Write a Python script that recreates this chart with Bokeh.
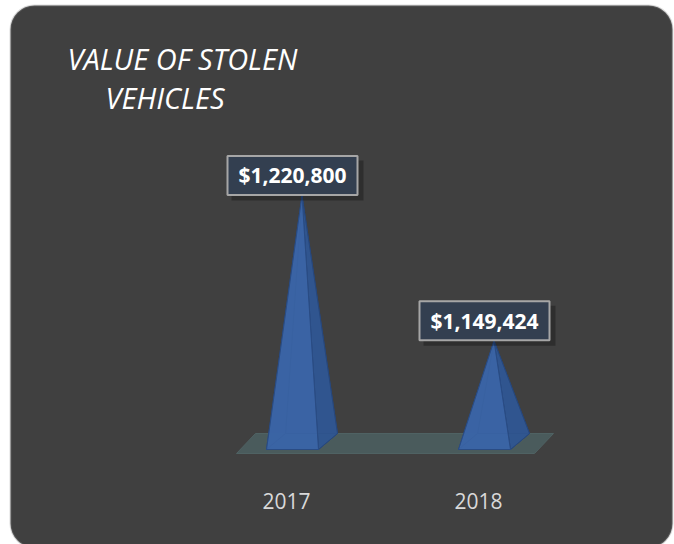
from bokeh.plotting import figure
from bokeh.models import Range1d, BoxAnnotation
from bokeh.core.properties import value
from bokeh.embed import file_html
from bokeh.resources import INLINE

# ---- data ----
years = ["2017", "2018"]
values = [1220800, 1149424]
axis_min = 1100000
title_lines = ["VALUE OF STOLEN", "VEHICLES"]

# ---- layout constants (pixel scale of the chart) ----
W, H = 674, 544
PX_PER_CAT = 192.0      # pixels per category step
VAL_PER_PX = 491.0      # value units per pixel
BASE_X0 = 301.5         # canvas x of first category base centre
BASE_Y = 441.0          # canvas y of axis minimum

x_start = -BASE_X0 / PX_PER_CAT
x_end = x_start + W / PX_PER_CAT
y_end = axis_min + BASE_Y * VAL_PER_PX
y_start = y_end - H * VAL_PER_PX

def dx(px):
    return px / PX_PER_CAT

def dv(px):
    return px * VAL_PER_PX

def X(px):
    return x_start + px / PX_PER_CAT

def Y(py):
    return y_end - py * VAL_PER_PX

p = figure(width=W, height=H, x_range=Range1d(x_start, x_end), y_range=Range1d(y_start, y_end),
           x_axis_type=None, y_axis_type=None, output_backend="svg", toolbar_location=None,
           min_border=0)
p.grid.visible = False
p.outline_line_color = None
p.background_fill_color = "white"
p.border_fill_color = "white"

# rounded dark panel
panel = BoxAnnotation(left=X(10), right=X(672), top=Y(5), bottom=Y(547), border_radius=24,
                      fill_color="#404040", fill_alpha=1.0, line_color="#8c8c8c", line_width=2,
                      level="underlay")
p.add_layout(panel)

xs_idx = list(range(len(years)))

# floor
fl_l, fl_r = xs_idx[0] - dx(56), xs_idx[-1] + dx(50)
skew = dx(9.5)
floor_front, floor_back = axis_min - dv(12), axis_min + dv(8)
p.patch([fl_l - skew, fl_r - skew, fl_r + skew, fl_l + skew],
        [floor_front, floor_front, floor_back, floor_back],
        fill_color="#4a5b5c", line_color="#4f6263", line_width=1)

# pyramids
hw = dx(26)
ddx = dx(9.5)
ddv = dv(8)
back_x, back_y, front_x, front_y, right_x, right_y = [], [], [], [], [], []
for xc, v in zip(xs_idx, values):
    FL = (xc - hw - ddx, axis_min - ddv)
    FR = (xc + hw - ddx, axis_min - ddv)
    BR = (xc + hw + ddx, axis_min + ddv)
    BL = (xc - hw + ddx, axis_min + ddv)
    A = (xc, v)
    back_x += [[BL[0], BR[0], A[0]], [FL[0], BL[0], A[0]], [FL[0], FR[0], BR[0], BL[0]]]
    back_y += [[BL[1], BR[1], A[1]], [FL[1], BL[1], A[1]], [FL[1], FR[1], BR[1], BL[1]]]
    front_x.append([FL[0], FR[0], A[0]])
    front_y.append([FL[1], FR[1], A[1]])
    right_x.append([FR[0], BR[0], A[0]])
    right_y.append([FR[1], BR[1], A[1]])

p.patches(back_x, back_y, fill_color="#2f5592", fill_alpha=0.9, line_color="#27477c", line_width=1)
p.patches(right_x, right_y, fill_color="#30568f", fill_alpha=0.85, line_color="#27477c", line_width=1)
p.patches(front_x, front_y, fill_color="#3c66a8", fill_alpha=0.85, line_color="#2a4c84", line_width=1)

# value labels
lab_x = [i - ddx for i in xs_idx]
lab_y = [v + dv(20) for v in values]
p.rect([x + dx(5) for x in lab_x], [y - dv(5) for y in lab_y], width=132, height=40,
       width_units="screen", height_units="screen", fill_color="black", fill_alpha=0.28,
       line_color=None)
p.rect(lab_x, lab_y, width=130, height=39, width_units="screen", height_units="screen",
       fill_color="#333f50", line_color="#a6a6a6", line_width=2)
p.text(lab_x, lab_y, text=[f"${v:,}" for v in values], text_align="center",
       text_baseline="middle", text_color="white", text_font=value("Open Sans"),
       text_font_style="bold", text_font_size="21px")

# category labels
p.text([i - dx(15.5) for i in xs_idx], [Y(500)] * len(years), text=years, text_align="center",
       text_baseline="alphabetic", text_color="#d9d9d9", text_font=value("Open Sans"),
       text_font_size="21px")

# title
p.text([X(67), X(105)], [Y(58), Y(97)], text=title_lines, text_align="left",
       text_baseline="alphabetic", text_color="white", text_font=value("Open Sans"),
       text_font_style="italic", text_font_size="29px")

open("out.html", "w").write(file_html(p, INLINE))
